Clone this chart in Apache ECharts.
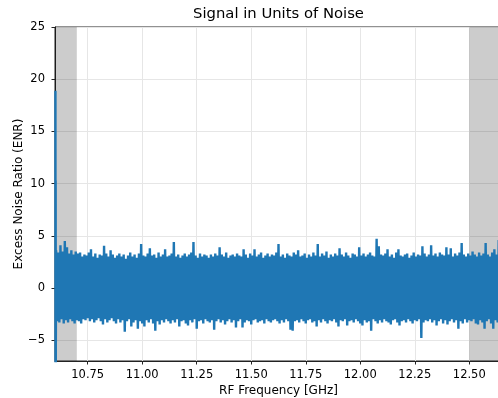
<!DOCTYPE html>
<html>
<head>
<meta charset="utf-8">
<script src="https://cdn.jsdelivr.net/npm/echarts@6/dist/echarts.min.js"></script>
<style>
  html, body { margin: 0; padding: 0; background: #fff; }
  #chart { width: 498px; height: 398px; }
</style>
</head>
<body>
<div id="chart"></div>
<script>
// Sweep settings: frequency of the first noise sample and sample spacing (GHz)
const bandStart = 10.605;
const bandStep = 0.01;

// Strong feature at the very start of the sweep (GHz, ENR)
const spikeFreq = [10.602, 10.6025, 10.603, 10.6035];
const spikeEnr = [18.9, -9.0, 10.3, -8.0];

// Per-sample noise maxima (ENR)
const upperEnr = [
  3.6, 3.4, 4.1, 3.5, 4.5, 3.9, 3.3, 3.6, 3.2, 3.5,
  3.3, 3.4, 3.0, 3.2, 3.1, 3.4, 3.7, 3.0, 3.3, 2.9,
  3.2, 3.1, 4.05, 3.3, 3.0, 3.6, 3.2, 2.9, 3.1, 3.3,
  3.0, 3.2, 2.8, 3.1, 3.4, 3.0, 3.2, 2.9, 3.3, 4.2,
  3.1, 3.0, 3.3, 3.8, 3.1, 3.2, 2.9, 3.4, 3.0, 3.2,
  3.7, 3.0, 3.1, 3.3, 4.4, 3.0, 3.2, 2.9, 3.1, 3.3,
  3.0, 3.2, 3.4, 4.4, 3.1, 2.9, 3.3, 3.0, 3.2, 3.1,
  2.9, 3.2, 3.0, 3.3, 3.1, 3.9, 3.2, 3.0, 3.4, 2.9,
  3.1, 3.2, 3.0, 3.3, 3.1, 3.0, 3.7, 3.2, 2.9, 3.3,
  3.1, 3.7, 3.0, 3.2, 3.4, 2.9, 3.1, 3.3, 3.0, 3.2,
  3.1, 3.4, 4.2, 3.0, 3.2, 2.9, 3.3, 3.1, 3.0, 3.4,
  3.2, 3.6, 3.0, 3.1, 3.3, 2.9, 3.2, 3.0, 3.4, 3.1,
  4.2, 3.0, 3.3, 3.1, 3.5, 2.9, 3.2, 3.0, 3.3, 3.1,
  3.8, 3.2, 3.0, 3.4, 3.1, 2.9, 3.3, 3.2, 3.0, 3.9,
  3.1, 3.3, 3.0, 3.2, 3.4, 3.1, 3.0, 4.7, 4.0, 3.2,
  3.1, 3.3, 3.7, 3.0, 3.2, 2.9, 3.4, 3.7, 3.1, 3.0,
  3.2, 3.3, 2.9, 3.1, 3.4, 3.0, 3.2, 3.1, 4.0, 3.3,
  3.0, 3.2, 4.1, 3.1, 3.3, 3.0, 3.4, 3.2, 3.1, 3.9,
  3.2, 3.8, 3.0, 3.3, 3.1, 3.4, 4.3, 3.2, 3.0, 3.3,
  3.1, 3.5, 3.2, 3.0, 3.4, 3.1, 3.3, 4.3, 3.2, 3.0,
  3.4, 3.7, 3.2, 4.6, 3.3, 3.1
];

// Per-sample noise minima (ENR)
const lowerEnr = [
  -3.2, -3.3, -3.0, -3.4, -3.1, -3.3, -3.0, -3.2, -3.4, -3.1,
  -3.2, -3.4, -3.0, -3.1, -2.9, -3.2, -3.0, -3.3, -3.1, -2.9,
  -3.2, -3.5, -3.0, -3.3, -3.1, -2.9, -3.2, -3.4, -3.0, -3.3,
  -3.1, -4.2, -3.2, -3.0, -3.7, -3.3, -3.1, -3.9, -3.2, -3.4,
  -3.7, -3.1, -3.3, -3.0, -3.4, -4.1, -3.2, -3.5, -3.1, -3.3,
  -3.0, -3.2, -3.4, -3.1, -3.3, -3.0, -3.7, -3.2, -3.1, -3.4,
  -3.6, -3.1, -3.3, -3.0, -3.9, -3.2, -3.1, -3.4, -3.0, -3.2,
  -3.3, -3.1, -4.0, -3.2, -3.0, -3.3, -3.1, -3.5, -3.2, -3.0,
  -3.3, -3.1, -3.8, -3.2, -3.0, -3.8, -3.3, -3.1, -3.2, -3.5,
  -3.1, -3.0, -3.3, -3.2, -3.1, -3.4, -3.0, -3.2, -3.3, -3.1,
  -3.0, -3.2, -3.4, -3.1, -3.3, -3.0, -3.2, -4.0, -4.1, -3.2,
  -3.1, -3.3, -3.0, -3.2, -3.4, -3.1, -3.0, -3.3, -3.2, -3.7,
  -3.1, -3.3, -3.0, -3.2, -3.4, -3.1, -3.2, -3.0, -3.3, -3.7,
  -3.1, -3.2, -3.0, -3.6, -3.2, -3.1, -3.3, -3.0, -3.2, -3.4,
  -3.6, -3.1, -3.3, -3.2, -4.1, -3.0, -3.2, -3.4, -3.1, -3.3,
  -3.0, -3.2, -3.3, -3.5, -3.1, -3.0, -3.3, -3.6, -3.2, -3.1,
  -3.3, -3.0, -3.2, -3.4, -3.1, -3.2, -3.0, -4.8, -3.3, -3.1,
  -3.2, -3.0, -3.3, -3.1, -3.6, -3.2, -3.0, -3.4, -3.1, -3.5,
  -3.2, -3.0, -3.3, -3.1, -3.9, -3.2, -3.4, -3.0, -3.3, -3.1,
  -3.2, -3.0, -3.4, -3.5, -3.1, -3.3, -3.9, -3.2, -3.0, -3.4,
  -3.9, -3.1, -3.3, -3.2, -3.4, -3.0
];

// Excluded band edges (GHz)
const lowBand = [10.6, 10.7];
const highBand = [12.5, 12.65];

// Axis ticks
const xTicks = [10.75, 11.0, 11.25, 11.5, 11.75, 12.0, 12.25, 12.5];
const yTicks = [-5, 0, 5, 10, 15, 20, 25];

// Build the trace: each sample contributes its maximum and then its minimum
const trace = [];
for (let i = 0; i < spikeFreq.length; i++) trace.push([spikeFreq[i], spikeEnr[i]]);
for (let i = 0; i < upperEnr.length; i++) {
  const f = bandStart + i * bandStep;
  trace.push([f, upperEnr[i]]);
  trace.push([f + bandStep / 2, lowerEnr[i]]);
}

const FONT = 'DejaVu Sans';
const chart = echarts.init(document.getElementById('chart'), null, { renderer: 'canvas' });

chart.setOption({
  animation: false,
  backgroundColor: '#ffffff',
  graphic: [
    {
      type: 'text',
      x: 278.5,
      y: 14.5,
      style: {
        text: 'Signal in Units of Noise',
        align: 'center',
        verticalAlign: 'middle',
        fontFamily: FONT,
        fontSize: 14.8,
        fill: '#000'
      }
    }
  ],
  grid: {
    left: 55, top: 27, bottom: 37, right: -4,
    containLabel: false,
    outerBoundsMode: 'none',
    show: true, borderColor: '#222', borderWidth: 1, backgroundColor: 'transparent'
  },
  xAxis: {
    type: 'value',
    min: 10.6, max: 12.65,
    name: 'RF Frequency [GHz]',
    nameLocation: 'middle',
    nameGap: 24,
    nameMoveOverlap: false,
    nameTextStyle: { fontFamily: FONT, fontSize: 12, color: '#000' },
    axisLine: { show: true, onZero: false, lineStyle: { color: '#222', width: 1 } },
    axisTick: { show: true, length: 3.5, customValues: xTicks, lineStyle: { color: '#222' } },
    axisLabel: {
      customValues: xTicks, margin: 8,
      fontFamily: FONT, fontSize: 11.5, color: '#000',
      formatter: v => v.toFixed(2)
    },
    splitLine: { show: true, lineStyle: { color: '#e6e6e6', width: 1 } }
  },
  yAxis: {
    type: 'value',
    min: -7, max: 25,
    name: 'Excess Noise Ratio (ENR)',
    nameLocation: 'middle',
    nameGap: 30,
    nameMoveOverlap: false,
    nameTextStyle: { fontFamily: FONT, fontSize: 12, color: '#000' },
    axisLine: { show: true, onZero: false, lineStyle: { color: '#222', width: 1 } },
    axisTick: { show: true, length: 3.5, customValues: yTicks, lineStyle: { color: '#222' } },
    axisLabel: {
      customValues: yTicks, margin: 10,
      fontFamily: FONT, fontSize: 11.5, color: '#000',
      formatter: v => String(v).replace('-', '\u2212')
    },
    splitLine: { show: true, lineStyle: { color: '#e6e6e6', width: 1 } }
  },
  series: [
    {
      name: 'ENR',
      type: 'line',
      data: trace,
      showSymbol: false,
      sampling: null,
      z: 2,
      lineStyle: { color: '#1f77b4', width: 2.4, join: 'miter', miterLimit: 2 },
      itemStyle: { color: '#1f77b4' }
    },
    {
      name: 'excluded',
      type: 'line',
      data: [],
      z: 5,
      markArea: {
        silent: true,
        itemStyle: { color: 'rgba(0,0,0,0.2)' },
        data: [
          [{ xAxis: lowBand[0] }, { xAxis: lowBand[1] }],
          [{ xAxis: highBand[0] }, { xAxis: highBand[1] }]
        ]
      }
    }
  ]
});
</script>
</body>
</html>
